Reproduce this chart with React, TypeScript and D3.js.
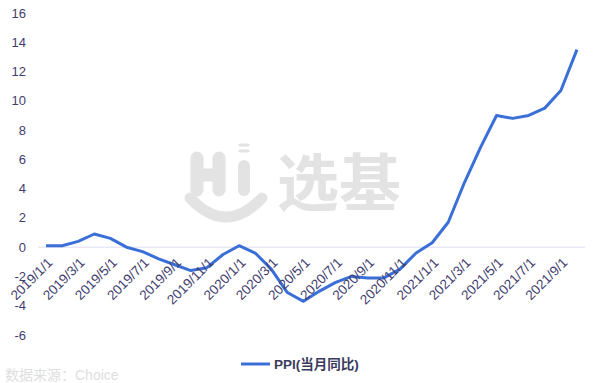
import React from "react";
import * as d3 from "d3";

const categories: string[] = [
  "2019/1/1","2019/2/1","2019/3/1","2019/4/1","2019/5/1","2019/6/1","2019/7/1","2019/8/1","2019/9/1","2019/10/1","2019/11/1","2019/12/1",
  "2020/1/1","2020/2/1","2020/3/1","2020/4/1","2020/5/1","2020/6/1","2020/7/1","2020/8/1","2020/9/1","2020/10/1","2020/11/1","2020/12/1",
  "2021/1/1","2021/2/1","2021/3/1","2021/4/1","2021/5/1","2021/6/1","2021/7/1","2021/8/1","2021/9/1","2021/10/1",
];
const ppi: number[] = [
  0.1, 0.1, 0.4, 0.9, 0.6, 0.0, -0.3, -0.8, -1.2, -1.6, -1.4, -0.5,
  0.1, -0.4, -1.5, -3.1, -3.7, -3.0, -2.4, -2.0, -2.1, -2.1, -1.5, -0.4,
  0.3, 1.7, 4.4, 6.8, 9.0, 8.8, 9.0, 9.5, 10.7, 13.5,
];
const yTicks: number[] = [-6, -4, -2, 0, 2, 4, 6, 8, 10, 12, 14, 16];
const seriesName = "PPI(当月同比)";
const sourceText = "数据来源：Choice";

export default function App() {
  const W = 600, H = 383;
  const x = d3.scaleBand<string>().domain(categories).range([38, 585]);
  const y = d3.scaleLinear().domain([-6, 16]).range([335, 13]);
  const cx = (c: string) => (x(c) as number) + x.bandwidth() / 2;
  const line = d3.line<number>().x((_, i) => cx(categories[i])).y((v) => y(v));
  const labelColor = "#3f3d6e";
  const font = "'Liberation Sans', 'Noto Sans CJK SC', sans-serif";
  const wm = "#e3e3e3";
  return (
    <svg width={W} height={H} style={{ position: "absolute", left: 0, top: 0, background: "#fff" }} fontFamily={font}>
      {/* watermark logo */}
      <g stroke={wm} strokeLinecap="round" fill="none">
        <path d="M197,158 L197,190 M219,158 L219,190 M197,175 L219,175" strokeWidth={13} />
        <path d="M244,166 L244,190" strokeWidth={12} />
        <path d="M240,145 L248,145 M240,151 L248,151" strokeWidth={3} />
        <path d="M190,198 Q226,236 262,198" strokeWidth={11} />
      </g>
      <text x={277} y={206} fontSize={62} fontWeight="bold" fill={wm} fontFamily="'Noto Sans CJK SC', sans-serif">选基</text>
      {/* zero axis */}
      <line x1={38} x2={585} y1={y(0)} y2={y(0)} stroke="#dcdcf0" strokeWidth={1} />
      {/* y labels */}
      {yTicks.map((t) => (
        <text key={t} x={26} y={y(t)} dy="0.35em" textAnchor="end" fontSize={13} fill={labelColor}>{t}</text>
      ))}
      {/* series */}
      <path d={line(ppi) || ""} fill="none" stroke="#3a6fd8" strokeWidth={3} strokeLinejoin="round" />
      {/* x labels */}
      {categories.map((c, i) =>
        i % 2 === 0 ? (
          <text key={c} transform={`translate(${cx(c) + 4},${y(0) + 13}) rotate(-45)`} textAnchor="end" dy="0.35em" fontSize={13.5} fill={labelColor}>{c}</text>
        ) : null
      )}
      {/* legend */}
      <line x1={241} x2={270} y1={364} y2={364} stroke="#3a6fd8" strokeWidth={3} />
      <text x={274} y={364} dy="0.35em" fontSize={13.5} fontWeight="bold" fill="#3a3a5c">{seriesName}</text>
      {/* source */}
      <text x={5} y={375} dy="0.35em" fontSize={14} fill="#dedede">{sourceText}</text>
    </svg>
  );
}
